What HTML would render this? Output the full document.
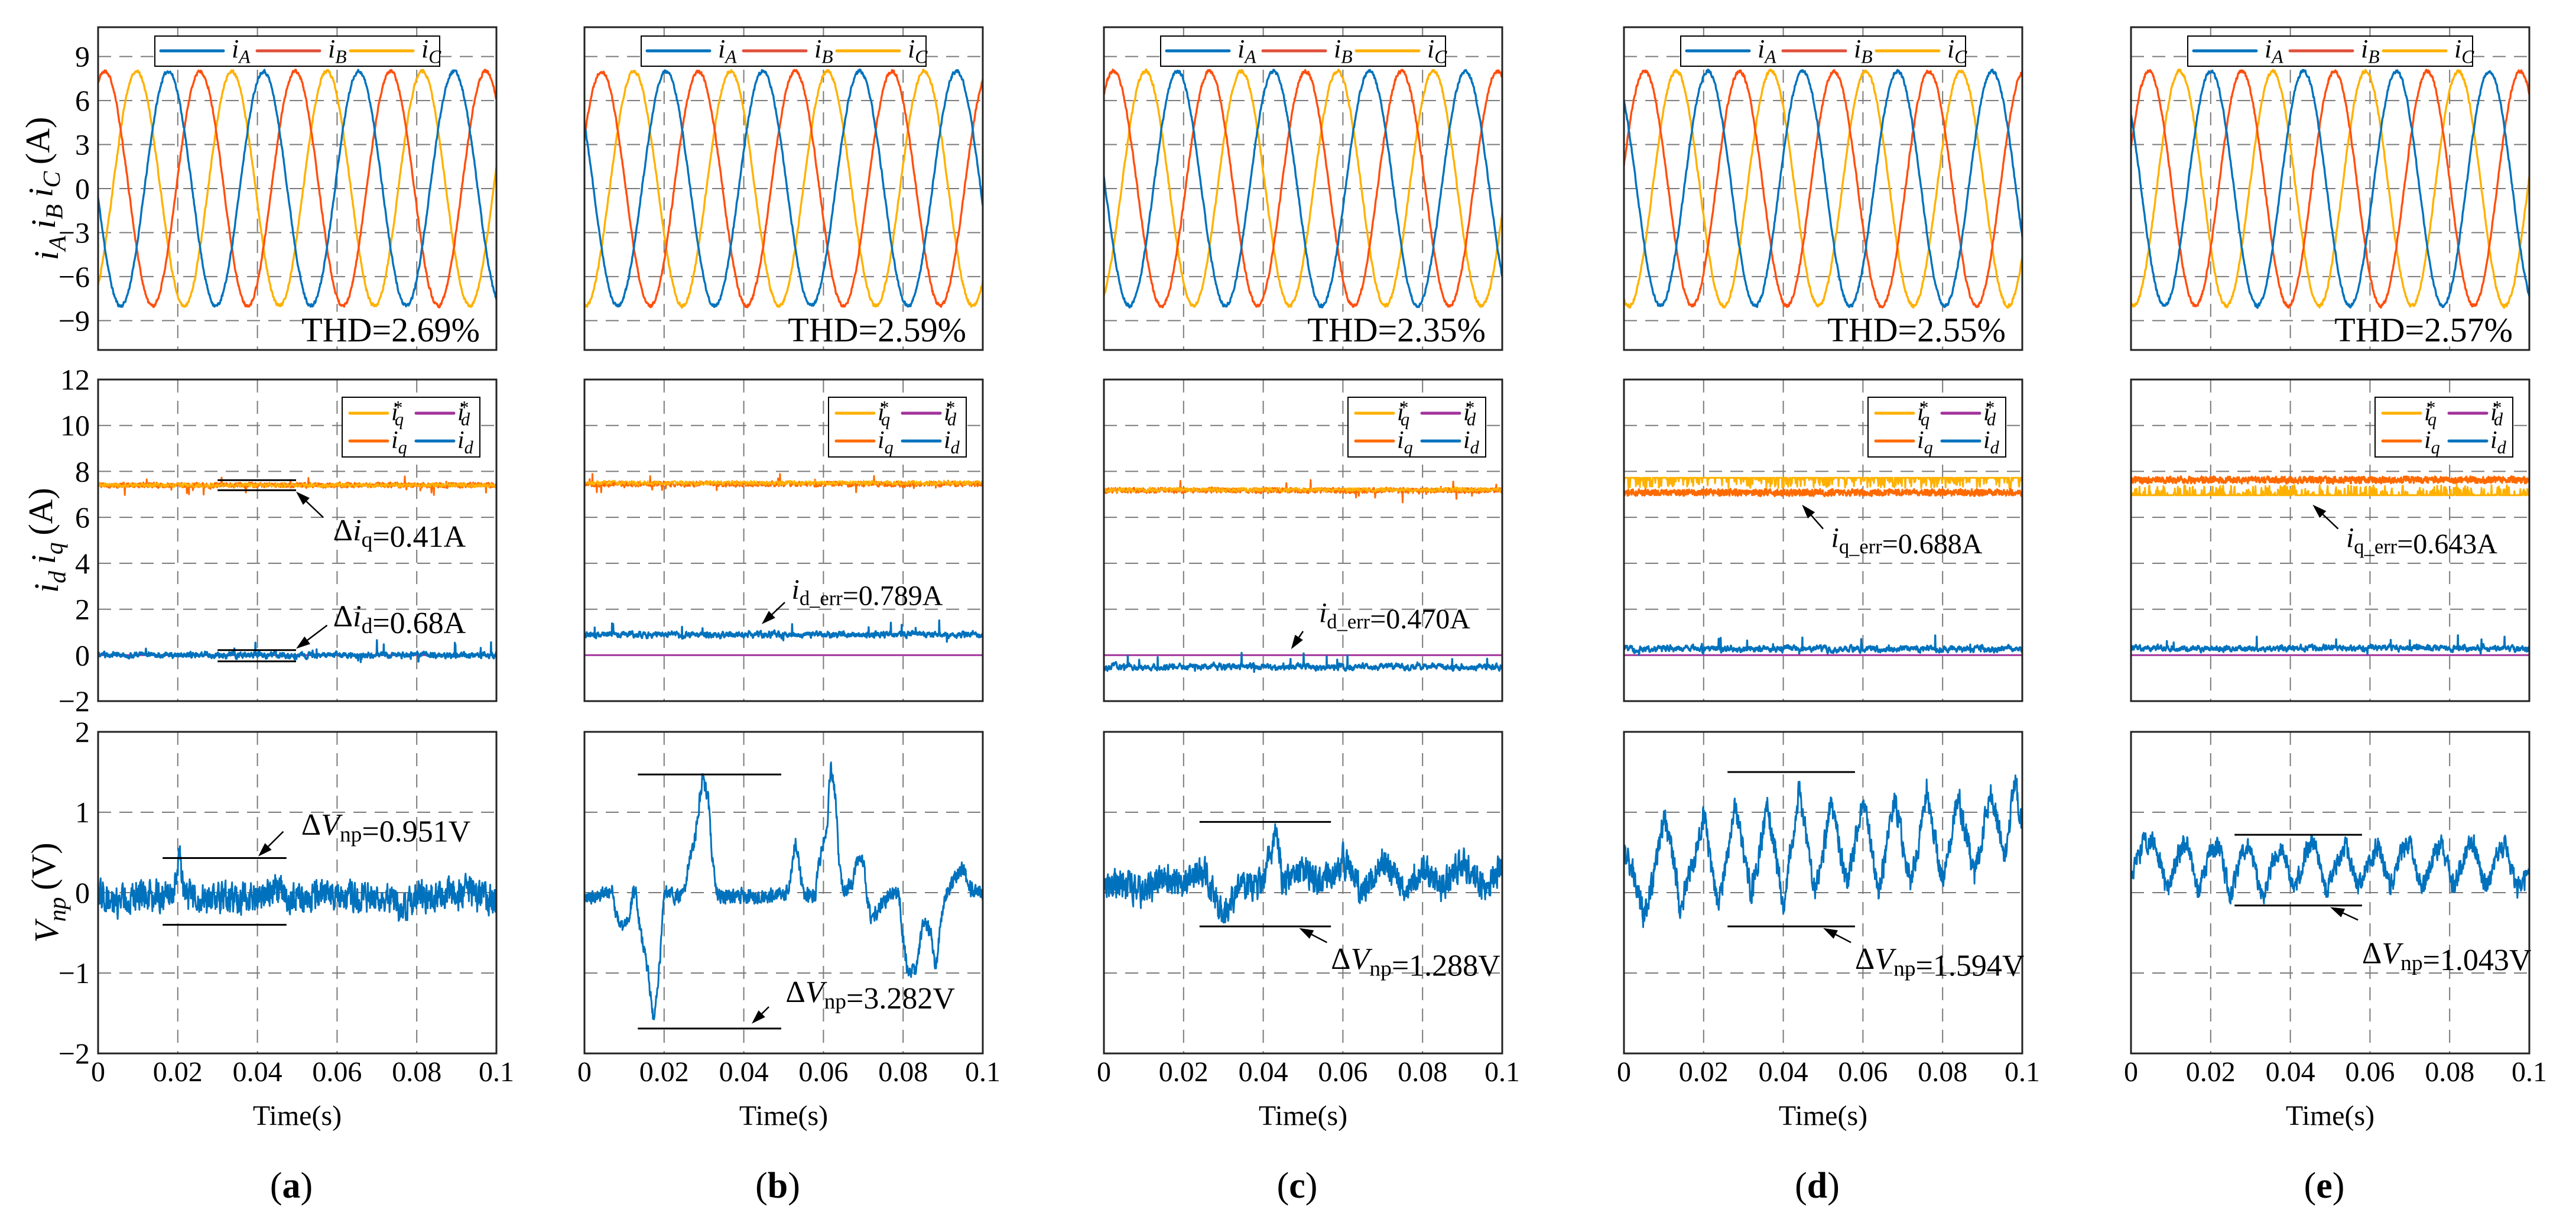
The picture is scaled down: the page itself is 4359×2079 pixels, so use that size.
<!DOCTYPE html>
<html>
<head>
<meta charset="utf-8">
<style>
  html,body{margin:0;padding:0;background:#fff;}
  svg{display:block;}
  text{font-family:"Liberation Serif","DejaVu Serif",serif;fill:#000;}
</style>
</head>
<body>
<svg id="fig" xmlns="http://www.w3.org/2000/svg" width="4359" height="2079" viewBox="0 0 4359 2079"></svg>
<script>
// ---------------- data ----------------
const panelIds = ['a','b','c','d','e'];
const thdLabels = ['THD=2.69%','THD=2.59%','THD=2.35%','THD=2.55%','THD=2.57%'];
const sineAmp = [8, 8, 8, 8, 8];
const sinePeriod = [0.0239, 0.0243, 0.0241, 0.0238, 0.0233];
const sinePeakB = [0.0017, 0.0043, 0.0024, 0.0052, 0.0045];
const iqRef = [7.40, 7.50, 7.20, 7.72, 6.96];
const iqMeas = [7.40, 7.45, 7.17, 7.08, 7.63];
const idRef = [0, 0, 0, 0, 0];
const idMeas = [0.0, 0.90, -0.50, 0.27, 0.30];
const xTickLabels = ['0','0.02','0.04','0.06','0.08','0.1'];
const xTickValues = [0, 0.02, 0.04, 0.06, 0.08, 0.1];
const topTicks = [9, 6, 3, 0, -3, -6, -9];
const midTicks = [12, 10, 8, 6, 4, 2, 0, -2];
const botTicks = [2, 1, 0, -1, -2];

const vnpTimesA = [0,0.004,0.008,0.012,0.016,0.019,0.0205,0.022,0.026,0.03,0.035,0.04,0.044,0.048,0.052,0.056,0.06,0.064,0.068,0.072,0.076,0.08,0.084,0.088,0.092,0.096,0.1];
const vnpValsA  = [0.05,-0.15,-0.05,0.0,-0.05,0.0,0.38,-0.05,-0.08,-0.05,-0.08,-0.05,0.05,-0.08,-0.1,0.0,-0.05,-0.05,-0.05,0.0,-0.2,-0.05,-0.05,0.0,0.0,-0.05,-0.1];
const vnpTimesB = [0,0.007,0.008,0.009,0.011,0.012,0.013,0.014,0.016,0.0175,0.019,0.02,0.022,0.025,0.026,0.028,0.0295,0.031,0.032,0.033,0.035,0.045,0.051,0.052,0.053,0.054,0.055,0.058,0.059,0.061,0.0618,0.063,0.064,0.065,0.067,0.069,0.07,0.071,0.072,0.074,0.076,0.079,0.08,0.081,0.083,0.085,0.087,0.088,0.09,0.091,0.093,0.095,0.097,0.1];
const vnpValsB  = [-0.1,0.05,-0.3,-0.45,-0.35,-0.05,0.0,-0.5,-1.0,-1.65,-0.8,0.0,-0.05,0.0,0.3,0.75,1.4,1.2,0.5,0.0,-0.05,-0.05,0.0,0.3,0.7,0.3,-0.05,0.0,0.4,0.9,1.6,1.2,0.3,0.0,0.1,0.5,0.4,-0.1,-0.3,-0.2,-0.05,0.0,-0.6,-0.97,-0.97,-0.4,-0.45,-0.97,-0.2,0.0,0.2,0.3,0.05,0.0];
const vnpTimesC = [0,0.005,0.01,0.015,0.02,0.025,0.03,0.035,0.04,0.043,0.045,0.05,0.055,0.06,0.065,0.07,0.075,0.08,0.085,0.09,0.095,0.1];
const vnpValsC  = [0.1,0.1,0.0,0.2,0.1,0.3,-0.3,0.1,0.1,0.75,0.1,0.3,0.1,0.4,0.0,0.4,0.1,0.3,0.05,0.4,0.1,0.3];
const vnpTimesD = [0,0.002,0.005,0.0075,0.01,0.0125,0.014,0.017,0.02,0.022,0.0235,0.026,0.028,0.03,0.032,0.034,0.036,0.038,0.04,0.042,0.044,0.046,0.048,0.05,0.052,0.054,0.056,0.058,0.06,0.062,0.064,0.066,0.068,0.07,0.072,0.074,0.076,0.078,0.08,0.082,0.084,0.086,0.088,0.09,0.092,0.094,0.096,0.098,0.1];
const vnpValsD  = [0.5,0.3,-0.3,0.2,0.9,0.4,-0.2,0.3,1.0,0.3,-0.1,0.4,1.1,0.5,0.0,0.5,1.1,0.5,-0.2,0.6,1.3,0.6,0.0,0.5,1.1,0.6,0.1,0.6,1.2,0.6,0.0,0.6,1.2,0.6,0.1,0.6,1.3,0.7,0.1,0.7,1.2,0.7,0.2,0.7,1.3,0.8,0.4,1.45,0.8];
const vnpTimesE = [0,0.003,0.006,0.009,0.012,0.014,0.017,0.02,0.022,0.025,0.028,0.03,0.033,0.036,0.038,0.041,0.044,0.046,0.049,0.052,0.054,0.057,0.06,0.062,0.065,0.068,0.07,0.073,0.076,0.078,0.081,0.084,0.086,0.089,0.092,0.094,0.097,0.1];
const vnpValsE  = [0.2,0.6,0.65,0.0,0.5,0.65,0.0,0.5,0.6,-0.05,0.5,0.6,-0.1,0.45,0.6,0.0,0.5,0.65,0.0,0.4,0.6,0.05,0.4,0.6,0.05,0.5,0.6,0.0,0.45,0.6,0.05,0.5,0.65,0.05,0.5,0.6,0.05,0.2];
const vnpTimes = [vnpTimesA, vnpTimesB, vnpTimesC, vnpTimesD, vnpTimesE];
const vnpVals = [vnpValsA, vnpValsB, vnpValsC, vnpValsD, vnpValsE];
const vnpNoise = [0.12, 0.06, 0.12, 0.1, 0.08];
const dVnpLabels = ['=0.951V','=3.282V','=1.288V','=1.594V','=1.043V'];

// ---------------- layout ----------------
const SVGNS = 'http://www.w3.org/2000/svg';
const svg = document.getElementById('fig');
const L = [166, 989, 1868, 2748, 3606];
const W = 674;
const TMAX = 0.1;
const rows = {
  top: {y0: 46, h: 546, min: -11, max: 11},
  mid: {y0: 642, h: 544, min: -2, max: 12},
  bot: {y0: 1238, h: 544, min: -2, max: 2}
};
const C = {blue:'#0072BD', red:'#FF4F0F', redLeg:'#E0503A', yellow:'#FFB100', orange:'#FF6A00', purple:'#A2329B'};

function X(p, t){ return L[p] + t / TMAX * W; }
function Y(r, v){ const R = rows[r]; return R.y0 + (R.max - v) / (R.max - R.min) * R.h; }

function mk(tag, attrs, name, parent){
  const el = document.createElementNS(SVGNS, tag);
  for (const k in attrs) el.setAttribute(k, attrs[k]);
  
  
  (parent || svg).appendChild(el);
  return el;
}

function rng(seed){
  return function(){
    seed |= 0; seed = seed + 0x6D2B79F5 | 0;
    let t = Math.imul(seed ^ seed >>> 15, 1 | seed);
    t = t + Math.imul(t ^ t >>> 7, 61 | t) ^ t;
    return ((t ^ t >>> 14) >>> 0) / 4294967296;
  };
}
function interp(ts, vs, t){
  if (t <= ts[0]) return vs[0];
  for (let i = 1; i < ts.length; i++){
    if (t <= ts[i]){ const f = (t - ts[i-1]) / (ts[i] - ts[i-1]); return vs[i-1] + f * (vs[i] - vs[i-1]); }
  }
  return vs[vs.length - 1];
}
function poly(p, r, fn, n, color, width, name, parent){
  let pts = [];
  for (let i = 0; i <= n; i++){
    const t = i / n * TMAX;
    pts.push(X(p, t).toFixed(1) + ',' + Y(r, fn(t, i)).toFixed(1));
  }
  return mk('polyline', {points: pts.join(' '), fill: 'none', stroke: color, 'stroke-width': width, 'stroke-linejoin': 'round'}, name, parent);
}
function smoothNoise(seed, amp, k){
  const R = rng(seed); let prev = 0;
  return function(){ prev = k * prev + (1 - k) * (R() * 2 - 1) * 2.2; return prev * amp; };
}

function richText(x, y, html, size, anchor, name, extra){
  const t = mk('text', Object.assign({x: x, y: y, 'font-size': size, 'text-anchor': anchor || 'start'}, extra || {}), name);
  t.innerHTML = html;
  return t;
}
function arrow(x1, y1, x2, y2, name){
  const g = mk('g', {}, name);
  const dx = x2 - x1, dy = y2 - y1, len = Math.hypot(dx, dy), ux = dx / len, uy = dy / len;
  const hl = 24, hw = 8;
  const bx = x2 - ux * hl, by = y2 - uy * hl;
  mk('line', {x1: x1, y1: y1, x2: bx, y2: by, stroke: '#000', 'stroke-width': 2.5}, 'arrow-shaft', g);
  mk('polygon', {points: x2+','+y2+' '+(bx - uy*hw)+','+(by + ux*hw)+' '+(bx + uy*hw)+','+(by - ux*hw), fill: '#000'}, 'arrow-head', g);
  return g;
}
function hline(p, r, t1, t2, v, name){
  return mk('line', {x1: X(p, t1), x2: X(p, t2), y1: Y(r, v), y2: Y(r, v), stroke: '#000', 'stroke-width': 3}, name);
}

const SUB = (s) => '<tspan dy="0.3em" font-size="0.72em">' + s + '</tspan><tspan dy="-0.3em"></tspan>';
const SUBI = (s) => '<tspan dy="0.3em" font-size="0.72em" font-style="italic">' + s + '</tspan><tspan dy="-0.3em">\u2009</tspan>';
const I = (s) => '<tspan font-style="italic">' + s + '</tspan>';

// defs / clip paths
const defs = mk('defs', {}, 'defs');
for (let p = 0; p < 5; p++){
  for (const r of ['top','mid','bot']){
    const cp = mk('clipPath', {id: 'clip-' + r + p}, 'clip', defs);
    mk('rect', {x: L[p], y: rows[r].y0, width: W, height: rows[r].h}, 'clip-rect', cp);
  }
}

function axesBox(p, r, ticks){
  const R = rows[r];
  const g = mk('g', {}, 'grid-' + r + '-' + panelIds[p]);
  for (const t of [0.02, 0.04, 0.06, 0.08]){
    mk('line', {x1: X(p, t), x2: X(p, t), y1: R.y0, y2: R.y0 + R.h, stroke: '#7a7a7a', 'stroke-width': 2, 'stroke-dasharray': '22 14'}, 'x-gridline', g);
  }
  for (const v of ticks){
    if (v >= R.max || v <= R.min) continue;
    mk('line', {x1: L[p], x2: L[p] + W, y1: Y(r, v), y2: Y(r, v), stroke: '#7a7a7a', 'stroke-width': 2, 'stroke-dasharray': '22 14'}, 'y-gridline', g);
  }
}
function frame(p, r){
  const R = rows[r];
  mk('rect', {x: L[p], y: R.y0, width: W, height: R.h, fill: 'none', stroke: '#222', 'stroke-width': 3}, 'axes-frame-' + r + '-' + panelIds[p]);
}

// ---------------- build panels ----------------
for (let p = 0; p < 5; p++){
  const id = panelIds[p];

  // ----- top row: three-phase currents -----
  axesBox(p, 'top', topTicks);
  const gTop = mk('g', {'clip-path': 'url(#clip-top' + p + ')'}, 'phase-currents-' + id);
  const A = sineAmp[p], P = sinePeriod[p], tb = sinePeakB[p];
  const nzA = smoothNoise(11 + p, 0.07, 0.3), nzB = smoothNoise(21 + p, 0.07, 0.3), nzC = smoothNoise(31 + p, 0.07, 0.3);
  poly(p, 'top', t => A * Math.cos(2 * Math.PI * (t - tb - P / 3) / P) + nzC(), 900, C.yellow, 3.4, 'ic-line', gTop);
  poly(p, 'top', t => A * Math.cos(2 * Math.PI * (t - tb) / P) + nzB(), 900, C.red, 3.4, 'ib-line', gTop);
  poly(p, 'top', t => A * Math.cos(2 * Math.PI * (t - tb - 2 * P / 3) / P) + nzA(), 900, C.blue, 3.4, 'ia-line', gTop);
  frame(p, 'top');
  mk('rect', {x: L[p] + 345, y: Y('top', -8.4), width: W - 348, height: Y('top', -10.6) - Y('top', -8.4), fill: '#fff'}, 'thd-bg');
  richText(L[p] + W - 28, Y('top', -9.6) + 20, thdLabels[p], 58, 'end', 'thd-label');
  const lgx = L[p] + 96, lgy = 61;
  mk('rect', {x: lgx, y: lgy, width: 482, height: 51, fill: '#fff', stroke: '#000', 'stroke-width': 2}, 'legend-phase-box');
  const legTop = [[C.blue, 'A', 10], [C.redLeg, 'B', 173], [C.yellow, 'C', 331]];
  for (const [col, s, off] of legTop){
    mk('line', {x1: lgx + off, x2: lgx + off + 106, y1: lgy + 25, y2: lgy + 25, stroke: col, 'stroke-width': 5, 'stroke-linecap': 'round'}, 'legend-entry-i' + s.toLowerCase());
    richText(lgx + off + 120, lgy + 36, I('i') + SUBI(s), 44, 'start', 'legend-label-i' + s.toLowerCase());
  }

  // ----- middle row: dq currents -----
  axesBox(p, 'mid', midTicks);
  const gMid = mk('g', {'clip-path': 'url(#clip-mid' + p + ')'}, 'dq-currents-' + id);
  const nq = smoothNoise(41 + p, 0.06, 0.2), nqr = rng(51 + p), nd = smoothNoise(61 + p, 0.13, 0.7), nd2 = rng(71 + p);
  mk('line', {x1: L[p], x2: L[p] + W, y1: Y('mid', idRef[p]), y2: Y('mid', idRef[p]), stroke: C.purple, 'stroke-width': 3}, 'id-ref-line', gMid);
  poly(p, 'mid', t => idMeas[p] + nd() + (nd2() < 0.015 ? (nd2() - 0.3) * 0.8 : 0), 1400, C.blue, 3.4, 'id-line', gMid);
  if (p < 3){
    poly(p, 'mid', t => iqMeas[p] + nq() + (nqr() < 0.02 ? (nqr() - 0.5) * 0.9 : 0), 1000, C.orange, 3, 'iq-line', gMid);
    poly(p, 'mid', t => iqRef[p] + nq() * 0.9, 1000, C.yellow, 2, 'iq-ref-line', gMid);
  } else {
    poly(p, 'mid', t => iqRef[p] + (nqr() < 0.3 ? (p === 3 ? -0.15 : 0.15) * nqr() * 3 : 0), 800, C.yellow, 3, 'iq-ref-line', gMid);
    poly(p, 'mid', t => iqMeas[p] + nq() * 1.3, 1200, C.orange, 3.2, 'iq-line', gMid);
  }
  frame(p, 'mid');
  const mlx = L[p] + W - 28 - 233, mly = 672;
  mk('rect', {x: mlx, y: mly, width: 233, height: 101, fill: '#fff', stroke: '#000', 'stroke-width': 2}, 'legend-dq-box');
  const legMid = [[C.yellow, 'q', true, 13, 27], [C.purple, 'd', true, 125, 27], [C.orange, 'q', false, 13, 74], [C.blue, 'd', false, 125, 74]];
  for (const [col, s, star, ox, oy] of legMid){
    mk('line', {x1: mlx + ox, x2: mlx + ox + 64, y1: mly + oy, y2: mly + oy, stroke: col, 'stroke-width': 5, 'stroke-linecap': 'round'}, 'legend-entry-i' + s + (star ? '-ref' : ''));
    const html = I('i') + (star ? '<tspan dx="-0.25em" dy="-0.35em" font-size="0.75em">*</tspan><tspan dx="-0.45em" dy="0.65em" font-size="0.72em" font-style="italic">' + s + '</tspan>' : SUBI(s));
    richText(mlx + ox + 70, mly + oy + 12, html, 42, 'start', 'legend-label-i' + s + (star ? '-ref' : ''));
  }

  // ----- bottom row: Vnp -----
  axesBox(p, 'bot', botTicks);
  const gBot = mk('g', {'clip-path': 'url(#clip-bot' + p + ')'}, 'vnp-' + id);
  const nv = smoothNoise(81 + p, vnpNoise[p], 0.35);
  poly(p, 'bot', t => interp(vnpTimes[p], vnpVals[p], t) + nv(), 1100, C.blue, 3, 'vnp-line', gBot);
  frame(p, 'bot');

  for (let k = 0; k < xTickValues.length; k++){
    richText(X(p, xTickValues[k]), 1829, xTickLabels[k], 48, 'middle', 'x-tick-label');
  }
  richText(L[p] + W / 2, 1903, 'Time(s)', 48, 'middle', 'x-axis-title');
  richText(L[p] + W / 2 - 10, 2026, '(<tspan font-weight="bold">' + id + '</tspan>)', 62, 'middle', 'panel-label-' + id);
}

const fmt = v => (v < 0 ? '\u2212' + Math.abs(v) : '' + v);
for (const v of topTicks) richText(L[0] - 14, Y('top', v) + 17, fmt(v), 50, 'end', 'y-tick-label');
for (const v of midTicks) richText(L[0] - 14, Y('mid', v) + 17, fmt(v), 50, 'end', 'y-tick-label');
for (const v of botTicks) richText(L[0] - 14, Y('bot', v) + 17, fmt(v), 50, 'end', 'y-tick-label');

function yTitle(cy, html, name){
  return richText(0, 0, html, 58, 'middle', name, {transform: 'translate(98,' + cy + ') rotate(-90)'});
}
yTitle(Y('top', 0), I('i') + SUBI('A') + I('i') + SUBI('B') + I('i') + SUBI('C') + '(A)', 'y-axis-title-phase');
yTitle(Y('mid', 5), I('i') + SUBI('d') + I('i') + SUBI('q') + '(A)', 'y-axis-title-dq');
yTitle(Y('bot', 0), I('V') + SUBI('np') + '(V)', 'y-axis-title-vnp');

// ---------------- annotations ----------------
hline(0, 'mid', 0.030, 0.0497, 7.62, 'delta-iq-upper');
hline(0, 'mid', 0.030, 0.0497, 7.18, 'delta-iq-lower');
arrow(X(0, 0.0565), Y('mid', 6.0), X(0, 0.0497), Y('mid', 7.12), 'delta-iq-arrow');
richText(X(0, 0.059), Y('mid', 5.0), '\u0394' + I('i') + SUB('q') + '=0.41A', 52, 'start', 'delta-iq-label');
hline(0, 'mid', 0.030, 0.0497, 0.22, 'delta-id-upper');
hline(0, 'mid', 0.030, 0.0497, -0.27, 'delta-id-lower');
arrow(X(0, 0.0575), Y('mid', 1.3), X(0, 0.0497), Y('mid', 0.28), 'delta-id-arrow');
richText(X(0, 0.059), Y('mid', 1.25), '\u0394' + I('i') + SUB('d') + '=0.68A', 52, 'start', 'delta-id-label');

const errHtml = (s, v) => I('i') + '<tspan dy="0.3em" font-size="0.72em">' + s + '_err</tspan><tspan dy="-0.3em"></tspan>' + v;
richText(X(1, 0.052), Y('mid', 2.45), errHtml('d', '=0.789A'), 48, 'start', 'id-err-label');
arrow(X(1, 0.0503), Y('mid', 2.3), X(1, 0.0445), Y('mid', 1.35), 'id-err-arrow');
richText(X(2, 0.054), Y('mid', 1.43), errHtml('d', '=0.470A'), 48, 'start', 'id-err-label');
arrow(X(2, 0.050), Y('mid', 1.04), X(2, 0.047), Y('mid', 0.26), 'id-err-arrow');
richText(X(3, 0.052), Y('mid', 4.7), errHtml('q', '=0.688A'), 48, 'start', 'iq-err-label');
arrow(X(3, 0.050), Y('mid', 5.5), X(3, 0.0447), Y('mid', 6.55), 'iq-err-arrow');
richText(X(4, 0.054), Y('mid', 4.7), errHtml('q', '=0.643A'), 48, 'start', 'iq-err-label');
arrow(X(4, 0.052), Y('mid', 5.5), X(4, 0.0456), Y('mid', 6.55), 'iq-err-arrow');

const dvHtml = (v) => '\u0394' + I('V') + '<tspan dy="0.3em" font-size="0.72em">np</tspan><tspan dy="-0.3em"></tspan>' + v;
hline(0, 'bot', 0.0162, 0.0473, 0.43, 'delta-vnp-upper');
hline(0, 'bot', 0.0162, 0.0473, -0.40, 'delta-vnp-lower');
arrow(X(0, 0.0465), Y('bot', 0.76), X(0, 0.0402), Y('bot', 0.45), 'delta-vnp-arrow');
richText(X(0, 0.051), Y('bot', 0.72), dvHtml(dVnpLabels[0]), 52, 'start', 'delta-vnp-label');
hline(1, 'bot', 0.0134, 0.0494, 1.47, 'delta-vnp-upper');
hline(1, 'bot', 0.0134, 0.0494, -1.69, 'delta-vnp-lower');
arrow(X(1, 0.0463), Y('bot', -1.42), X(1, 0.042), Y('bot', -1.63), 'delta-vnp-arrow');
richText(X(1, 0.0505), Y('bot', -1.36), dvHtml(dVnpLabels[1]), 52, 'start', 'delta-vnp-label');
hline(2, 'bot', 0.024, 0.057, 0.88, 'delta-vnp-upper');
hline(2, 'bot', 0.024, 0.057, -0.42, 'delta-vnp-lower');
arrow(X(2, 0.056), Y('bot', -0.62), X(2, 0.049), Y('bot', -0.44), 'delta-vnp-arrow');
richText(X(2, 0.057), Y('bot', -0.95), dvHtml(dVnpLabels[2]), 52, 'start', 'delta-vnp-label');
hline(3, 'bot', 0.026, 0.058, 1.5, 'delta-vnp-upper');
hline(3, 'bot', 0.026, 0.058, -0.42, 'delta-vnp-lower');
arrow(X(3, 0.057), Y('bot', -0.62), X(3, 0.050), Y('bot', -0.44), 'delta-vnp-arrow');
richText(X(3, 0.058), Y('bot', -0.95), dvHtml(dVnpLabels[3]), 52, 'start', 'delta-vnp-label');
hline(4, 'bot', 0.026, 0.058, 0.72, 'delta-vnp-upper');
hline(4, 'bot', 0.026, 0.058, -0.16, 'delta-vnp-lower');
arrow(X(4, 0.057), Y('bot', -0.34), X(4, 0.050), Y('bot', -0.18), 'delta-vnp-arrow');
richText(X(4, 0.058), Y('bot', -0.88), dvHtml(dVnpLabels[4]), 52, 'start', 'delta-vnp-label');
</script>
</body>
</html>
